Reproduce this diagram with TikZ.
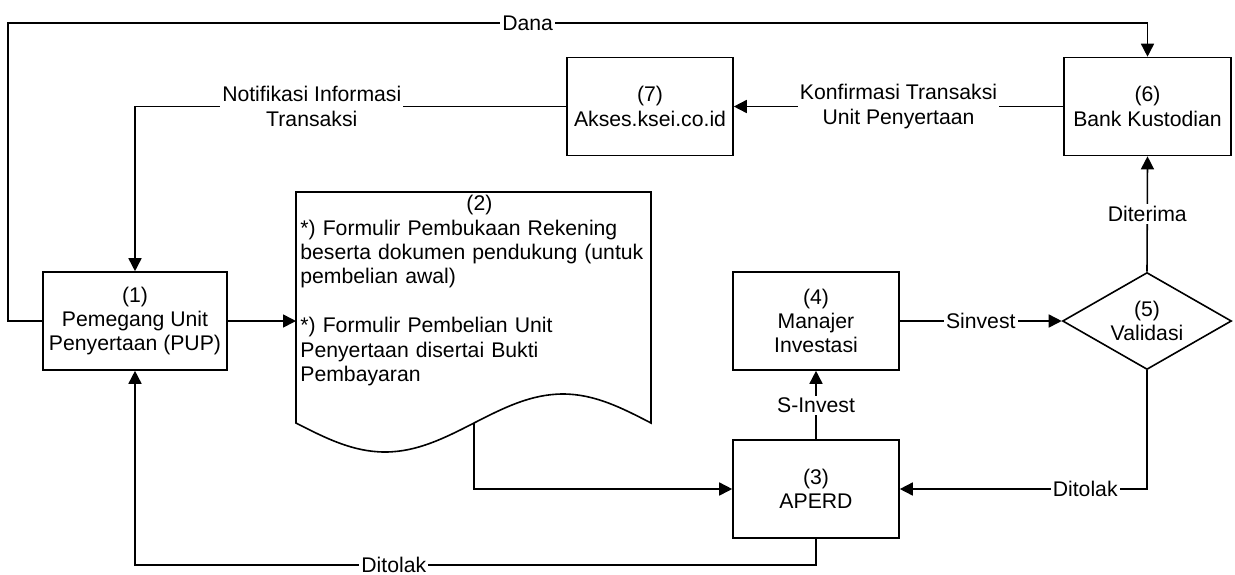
\documentclass[tikz,border=0pt]{standalone}
\usepackage{fontspec}
\setmainfont{Liberation Sans}
\usepackage{tikz}
\usetikzlibrary{arrows.meta}
\usetikzlibrary{shapes.geometric}

\begin{document}
\begin{tikzpicture}[x=0.5pt,y=-0.5pt,
	font=\fontsize{10.6pt}{12.2pt}\selectfont,
	>={Triangle[length=6.5pt,width=6.5pt]}]
	\useasboundingbox (0,0) rectangle (1235,574);
	
	\begin{scope}[every node/.style={draw,line width=0.8pt,align=center,inner sep=0pt,
			minimum width=83pt,minimum height=49pt}]
		\node (pup) at (135,321) [minimum width=92pt] {(1)\\Pemegang Unit\\Penyertaan (PUP)};
		\node (aperd) at (816,489) {(3)\\APERD};
		\node (mi) at (816,321) {(4)\\Manajer\\Investasi};
		\node (valid) at (1147,321) [diamond,aspect=1.75,minimum width=84.5pt,minimum height=48.5pt] {(5)\\Validasi};
		\node (bank) at (1147.5,106.5) [minimum width=83.5pt] {(6)\\Bank Kustodian};
		\node (akses) at (650,106.5) {(7)\\Akses.ksei.co.id};
	\end{scope}
	
	% dokumen (2) %
	\node (doc) at (473.5,307.5) [minimum width=177.5pt,minimum height=115.5pt,inner sep=0pt,outer sep=0pt] {};
	\draw[line width=0.8pt] (doc.north east) -- (doc.north west) -- (doc.south west)
		sin ++(89,29) cos ++(89,-29) sin ++(89,-29) cos ++(88,29) -- cycle;
	\node (doctext) at (300,195) [anchor=north west,inner sep=0pt,text width=179pt,align=left]
		{\makebox[\linewidth]{(2)}\\
		{*}) Formulir Pembukaan Rekening\\
		beserta dokumen pendukung (untuk\\
		pembelian awal)\\[12.2pt]
		{*}) Formulir Pembelian Unit\\
		Penyertaan disertai Bukti\\
		Pembayaran};
	\coordinate (docout) at (474,423);
	\coordinate (danaTop) at (8,23);
	
	\begin{scope}[line width=0.8pt,
		every node/.style={fill=white,inner xsep=1pt,inner ysep=1pt,align=center}]
		\draw[->] (pup.west) -| (danaTop) -| node[pos=0.228] {Dana} (bank.north);
		\draw[->] (akses.west) -| node[pos=0.295] {Notifikasi Informasi\\Transaksi} (pup.north);
		\draw[->] (bank.west) -- node {Konfirmasi Transaksi\\Unit Penyertaan} (akses.east);
		\draw[->] (pup.east) -- (pup.east -| doc.west);
		\draw[->] (docout) |- (aperd.west);
		\draw[->] (aperd.north) -- node {S-Invest} (mi.south);
		\draw[->] (mi.east) -- node {Sinvest} (valid.west);
		\draw[->] (valid.north) -- node {Diterima} (bank.south);
		\draw[->] (valid.south) |- node[pos=0.625] {Ditolak} (aperd.east);%ditolak%
		\draw[->] (aperd.south) -- ++(0,26) -| node[pos=0.31] {Ditolak} (pup.south);%ditolak%
	\end{scope}
\end{tikzpicture}
\end{document}
